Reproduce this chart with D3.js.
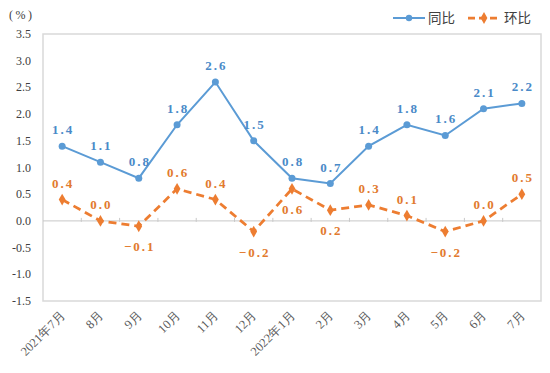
<!DOCTYPE html>
<html><head><meta charset="utf-8">
<script src="https://cdn.jsdelivr.net/npm/d3@7"></script>
<style>body{margin:0;background:#fff}svg{display:block}</style>
</head><body>
<svg id="c" width="550" height="373"></svg>
<script>
const categories = ["2021年7月","8月","9月","10月","11月","12月","2022年1月","2月","3月","4月","5月","6月","7月"];
const yoy = [1.4,1.1,0.8,1.8,2.6,1.5,0.8,0.7,1.4,1.8,1.6,2.1,2.2];
const mom = [0.4,0.0,-0.1,0.6,0.4,-0.2,0.6,0.2,0.3,0.1,-0.2,0.0,0.5];
const momLabelPos = ["up","up","down","up","up","down","down","down","up","up","down","up","up"];
const yTicks = [-1.5,-1.0,-0.5,0.0,0.5,1.0,1.5,2.0,2.5,3.0,3.5];
const seriesNames = ["同比","环比"];

const blue = "#5B9BD5", orange = "#ED7D31";
const svg = d3.select("#c");
const L = 43, R = 541, T = 34, B = 301;
const x = d3.scaleBand().domain(categories).range([L, R]);
const y = d3.scaleLinear().domain([-1.5, 3.5]).range([B, T]);
const cx = d => x(d) + x.bandwidth() / 2;
const fmt = v => v.toFixed(1);
const serif = "'Liberation Serif','Times New Roman',serif";

// border
svg.append("rect").attr("x", L).attr("y", T).attr("width", R - L).attr("height", B - T)
  .attr("fill", "none").attr("stroke", "#d9d9d9").attr("stroke-width", 1.5);
// zero line
svg.append("line").attr("x1", L).attr("x2", R).attr("y1", y(0)).attr("y2", y(0))
  .attr("stroke", "#c8c8c8").attr("stroke-width", 1);
categories.slice(1).forEach(c => {
  svg.append("line").attr("x1", x(c)).attr("x2", x(c)).attr("y1", y(0) - 3).attr("y2", y(0) + 1)
    .attr("stroke", "#c8c8c8").attr("stroke-width", 1);
});

// y axis labels
svg.append("g").selectAll("text").data(yTicks).join("text")
  .attr("x", 31).attr("y", d => y(d) + 4).attr("text-anchor", "end")
  .attr("font-family", serif).attr("font-size", 12).attr("fill", "#404040")
  .text(d => d.toFixed(1));
svg.append("text").attr("x", 9).attr("y", 19).attr("font-family", serif)
  .attr("font-size", 12).attr("letter-spacing", 2.5).attr("fill", "#404040").text("(%)");

// x labels
svg.append("g").selectAll("text").data(categories).join("text")
  .attr("transform", d => `translate(${cx(d) + 4},${B + 15}) rotate(-45)`)
  .attr("text-anchor", "end").attr("font-family", serif).attr("font-size", 12.5)
  .attr("fill", "#595959").text(d => d);

// lines
const lineGen = d3.line().x((d, i) => cx(categories[i])).y(d => y(d));
svg.append("path").datum(yoy).attr("d", lineGen).attr("fill", "none")
  .attr("stroke", blue).attr("stroke-width", 2);
svg.append("path").datum(mom).attr("d", lineGen).attr("fill", "none")
  .attr("stroke", orange).attr("stroke-width", 2.75).attr("stroke-dasharray", "8,5");

// markers
svg.append("g").selectAll("circle").data(yoy).join("circle")
  .attr("cx", (d, i) => cx(categories[i])).attr("cy", d => y(d)).attr("r", 3.5).attr("fill", blue);
const diamond = d3.symbol().type(d3.symbolDiamond).size(40);
svg.append("g").selectAll("path").data(mom).join("path")
  .attr("transform", (d, i) => `translate(${cx(categories[i])},${y(d)})`)
  .attr("d", diamond).attr("fill", orange);

// labels
const labFont = "'Liberation Serif','Times New Roman',serif";
svg.append("g").selectAll("text").data(yoy).join("text")
  .attr("x", (d, i) => cx(categories[i]) + 1).attr("y", d => y(d) - 12)
  .attr("text-anchor", "middle").attr("font-family", labFont).attr("font-weight", "bold")
  .attr("font-size", 13).attr("letter-spacing", 2).attr("fill", "#4A8AC8").text(fmt);
svg.append("g").selectAll("text").data(mom).join("text")
  .attr("x", (d, i) => cx(categories[i]) + 1).attr("y", (d, i) => momLabelPos[i] === "up" ? y(d) - 12 : y(d) + 25)
  .attr("text-anchor", "middle").attr("font-family", labFont).attr("font-weight", "bold")
  .attr("font-size", 13).attr("letter-spacing", 2).attr("fill", "#E27A2E")
  .text(d => d < 0 ? "\u2212" + Math.abs(d).toFixed(1) : fmt(d));

// legend
const lg = svg.append("g");
lg.append("line").attr("x1", 393).attr("x2", 425).attr("y1", 18).attr("y2", 18).attr("stroke", blue).attr("stroke-width", 2);
lg.append("circle").attr("cx", 409).attr("cy", 18).attr("r", 3.2).attr("fill", blue);
lg.append("text").attr("x", 428).attr("y", 23).attr("font-family", "'Noto Sans CJK SC',sans-serif")
  .attr("font-size", 13.5).attr("fill", "#404040").text(seriesNames[0]);
lg.append("line").attr("x1", 468).attr("x2", 500).attr("y1", 18).attr("y2", 18).attr("stroke", orange)
  .attr("stroke-width", 2.75).attr("stroke-dasharray", "7,4");
lg.append("path").attr("transform", "translate(484,18)").attr("d", diamond).attr("fill", orange);
lg.append("text").attr("x", 504).attr("y", 23).attr("font-family", "'Noto Sans CJK SC',sans-serif")
  .attr("font-size", 13.5).attr("fill", "#404040").text(seriesNames[1]);
</script>
</body></html>
